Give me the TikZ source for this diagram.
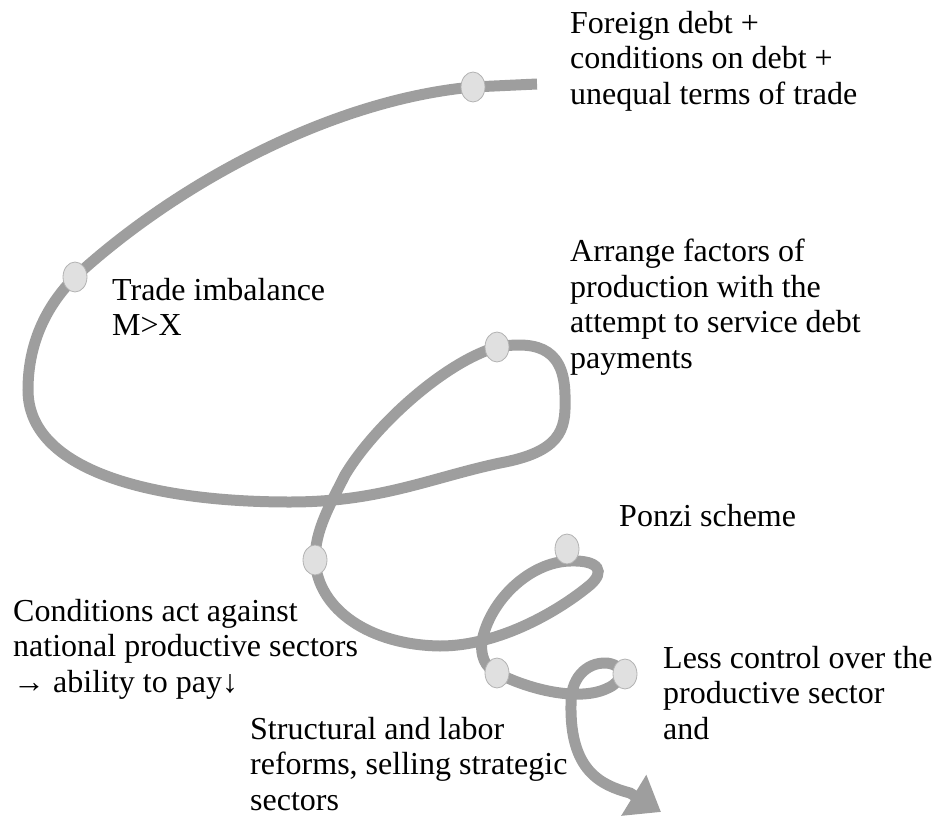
\documentclass[tikz,border=0pt]{standalone}
\usepackage{fontspec}
\setmainfont{Liberation Serif}
\usetikzlibrary{arrows.meta}
\usetikzlibrary{shapes.geometric}

\begin{document}
\begin{tikzpicture}[x=1pt,y=-1pt,
		trail/.style={line width=11pt,black!38},
		dot/.style={ellipse,draw=black!30,fill=black!12,line width=0.8pt,minimum width=24pt,minimum height=30pt,inner sep=0pt},
		lbl/.style={anchor=north west,inner sep=0pt,align=left,font=\fontsize{32pt}{35.5pt}\selectfont}]
		\useasboundingbox (0,0) rectangle (934,816);
		\coordinate (p0) at (537,84);
		\coordinate (p1) at (473,87);
		\coordinate (p2) at (75,277);
		\coordinate (p3) at (497,347);
		\coordinate (p4) at (315,560);
		\coordinate (p5) at (497,673);
		\coordinate (p6) at (570,561);
		\coordinate (p7) at (621,674);
		\coordinate (p8) at (661,812);
		\draw[trail,-{Triangle[length=32pt,width=46pt]}] (p0) -- (p1)
			.. controls (330,100) and (175,185) .. (p2)
			.. controls (45,307) and (28,345) .. (28,390)
			.. controls (28,470) and (150,502) .. (290,502)
			.. controls (380,502) and (430,478) .. (500,463)
			.. controls (560,452) and (566,430) .. (565,400)
			.. controls (566,350) and (540,340) .. (p3)
			.. controls (445,362) and (375,425) .. (345,475)
			.. controls (330,505) and (315,530) .. (p4)
			.. controls (318,610) and (370,645) .. (440,646)
			.. controls (500,646) and (560,610) .. (590,585)
			.. controls (605,572) and (600,560) .. (p6)
			.. controls (530,562) and (490,600) .. (482,641)
			.. controls (480,655) and (485,668) .. (p5)
			.. controls (530,690) and (580,702) .. (608,688)
			.. controls (622,682) and (628,666) .. (607,663)
			.. controls (585,662) and (570,680) .. (571,705)
			.. controls (570,770) and (600,785) .. (630,793)
			-- (p8);
		\node[dot] (d1) at (p1) {};
		\node[dot] (d2) at (p2) {};
		\node[dot] (d3) at (p3) {};
		\node[dot] (d4) at (p4) {};
		\node[dot] (d5) at (p5) {};
		\node[dot] (d6) at ([xshift=-3pt,yshift=12pt]p6) {};
		\node[dot] (d7) at ([xshift=4pt]p7) {};
		\node[lbl] (debt) at (570,11) {Foreign debt +\\conditions on debt +\\unequal terms of trade};
		\node[lbl] (arrange) at (570,239) {Arrange factors of\\production with the\\attempt to service debt\\payments};
		\node[lbl] (trade) at (112,278) {Trade imbalance\\M>X};
		\node[lbl] (ponzi) at (619,504) {Ponzi scheme};
		\node[lbl] (conds) at (13,599) {Conditions act against\\national productive sectors\\→ ability to pay↓};
		\node[lbl] (reform) at (250,717) {Structural and labor\\reforms, selling strategic\\sectors};
		\node[lbl] (control) at (663,646) {Less control over the\\productive sector\\and};
	\end{tikzpicture}
\end{document}
